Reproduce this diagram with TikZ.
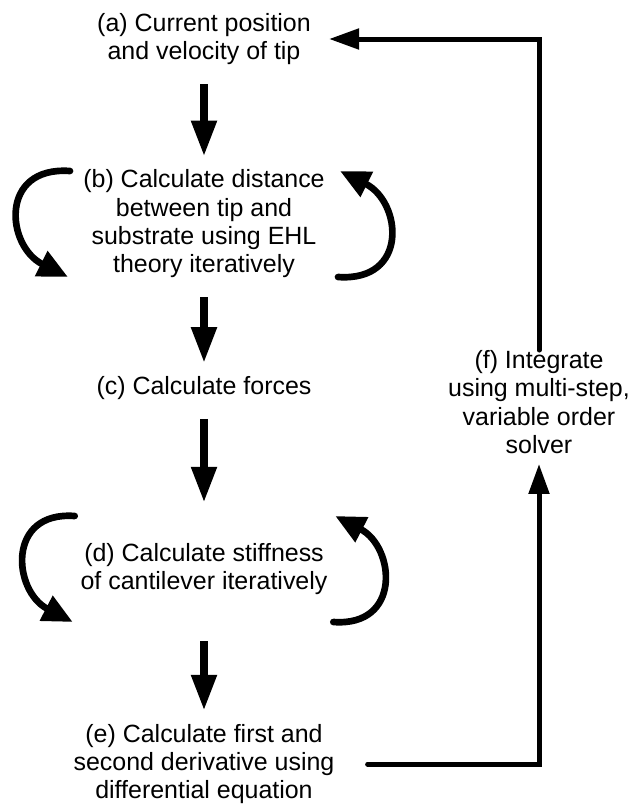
\documentclass[tikz,border=0pt]{standalone}
\usepackage{fontspec}
\setmainfont{Liberation Sans}
\usepackage{tikz}
\usetikzlibrary{
  arrows.meta,
  positioning,
  calc
}
\newcommand{\stagefont}{\fontsize{21.3}{24.2}\selectfont}

\begin{document}
\begin{tikzpicture}[
  x=0.03cm, y=0.03cm,
  stage/.style={align=center,inner sep=0pt,font=\stagefont},
  flow/.style ={-{Triangle[length=1.08cm,width=0.72cm]},line width=0.24cm,
                shorten <=0.57cm,shorten >=0.39cm},
  iter/.style ={-{Triangle[length=0.9cm,width=0.8cm]},line width=0.2cm,
                line cap=round},
  back/.style ={-{Triangle[length=0.9cm,width=0.6cm]},line width=0.15cm,
                line cap=round},
]
\useasboundingbox (0,0) rectangle (634,-809);

\node[stage] (a) at (204, -39) {(a) Current position\\and velocity of tip};
\node[stage] (b) at (204,-224) {(b) Calculate distance\\between tip and\\
  substrate using EHL\\theory iteratively};
\node[stage] (c) at (204,-388) {(c) Calculate forces};
\node[stage,minimum height=3.18cm] (d) at (204,-569)
  {(d) Calculate stiffness\\of cantilever iteratively};
\node[stage] (e) at (204,-764) {(e) Calculate first and\\
  second derivative using\\differential equation};
\node[stage] (f) at (539,-402) {(f) Integrate\\using multi-step,\\
  variable order\\solver};

\draw[flow] (a) -- (b);
\draw[flow] (b) -- (c);
\draw[flow] (c) -- (d);
\draw[flow] (d) -- (e);

% iterations round (b) and (d)
\draw[iter,shift={(b.center)}] (-134,53) .. controls (-205,58) and (-198,-22) .. (-136,-53);
\draw[iter,shift={(b.center)},rotate=180] (-134,53) .. controls (-205,58) and (-198,-22) .. (-136,-53);
\draw[iter,shift={(d.center)},xscale=0.965] (-134,53) .. controls (-205,58) and (-198,-22) .. (-136,-53);
\draw[iter,shift={(d.center)},xscale=0.965,rotate=180] (-134,53) .. controls (-205,58) and (-198,-22) .. (-136,-53);

% feedback loop
\draw[back,shorten >=0.3cm] ([xshift=0.99cm]e.east) -| (f.south);
\draw[back,shorten >=0.54cm] (f.north) |- (a.east);
\end{tikzpicture}
\end{document}
